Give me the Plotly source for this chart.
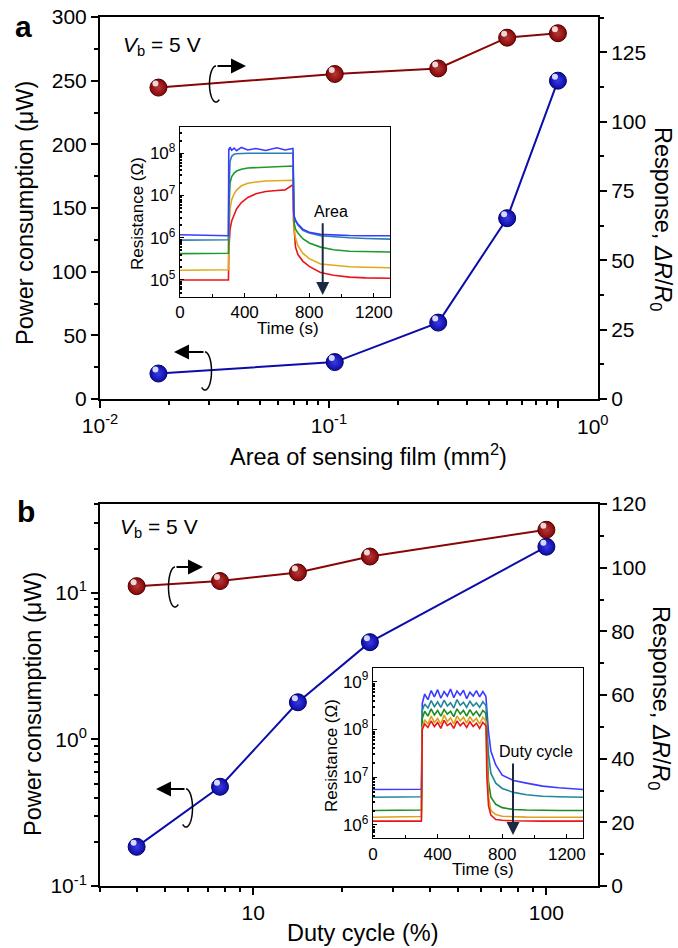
import math
import plotly.graph_objects as go

W, H = 678, 948
FONT = "Liberation Sans, Arial, sans-serif"

# ---------------- data ----------------
# panel a
area_mm2 = [0.018, 0.106, 0.30, 0.60, 1.0]
power_a_uW = [20, 29, 60, 142, 250]
response_a = [112.3, 117.2, 119.2, 130.3, 131.9]

# panel b
duty_pct = [4, 7.7, 14.2, 25, 100]
power_b_uW = [0.185, 0.475, 1.79, 4.6, 20.6]
response_b = [94.2, 95.8, 98.5, 103.5, 111.9]

# inset a : resistance vs time for five film areas
time_a = [0, 100, 200, 299, 300, 302, 305, 310, 320, 335, 350, 380, 420, 470, 530,
          600, 650, 699, 700, 703, 707, 715, 730, 760, 800, 870, 950, 1050, 1150, 1300]
res_a_blue = [1.18e6, 1.15e6, 1.13e6, 1.12e6, 1.12e6, 1.3e8, 1.2e8, 1.4e8, 1.18e8, 1.32e8, 1.15e8,
              1.38e8, 1.2e8, 1.3e8, 1.17e8, 1.35e8, 1.2e8, 1.3e8, 1.1e8, 4.5e6, 3.2e6, 2.6e6,
              2.1e6, 1.6e6, 1.35e6, 1.2e6, 1.15e6, 1.13e6, 1.12e6, 1.12e6]
res_a_teal = [8.8e5, 8.8e5, 8.9e5, 8.9e5, 9e5, 1.2e7, 4e7, 6.5e7, 8.5e7, 9.5e7, 9.8e7, 1e8, 1e8,
              1e8, 1e8, 1e8, 1e8, 1e8, 9e7, 4.5e6, 3.2e6, 2.5e6, 2e6, 1.5e6, 1.3e6, 1.12e6,
              1.05e6, 1.0e6, 9.6e5, 9.3e5]
res_a_green = [4.2e5, 4.2e5, 4.2e5, 4.2e5, 4.3e5, 4e6, 1.2e7, 2e7, 2.8e7, 3.4e7, 3.8e7, 4.2e7,
               4.5e7, 4.6e7, 4.7e7, 4.8e7, 4.9e7, 5e7, 4.8e7, 3.5e6, 2.2e6, 1.6e6, 1.3e6, 9.5e5,
               7.5e5, 6e5, 5.2e5, 4.8e5, 4.7e5, 4.6e5]
res_a_orange = [1.7e5, 1.7e5, 1.7e5, 1.7e5, 1.75e5, 1.2e6, 3e6, 5e6, 8e6, 1.1e7, 1.35e7, 1.7e7,
                1.95e7, 2.1e7, 2.2e7, 2.25e7, 2.3e7, 2.3e7, 2.2e7, 2.5e6, 1.5e6, 1e6, 6.5e5,
                4.3e5, 3.2e5, 2.4e5, 2.2e5, 2.05e5, 2e5, 1.95e5]
res_a_red = [1.0e5, 1.0e5, 1.0e5, 1.0e5, 1.0e5, 5e5, 1e6, 1.6e6, 2.5e6, 3.6e6, 4.8e6, 6.8e6,
             9e6, 1.1e7, 1.25e7, 1.32e7, 1.36e7, 1.8e7, 1.5e7, 2.5e6, 1.2e6, 6e5, 4e5, 2.8e5,
             2.1e5, 1.5e5, 1.3e5, 1.17e5, 1.12e5, 1.1e5]

# inset b : resistance vs time for five duty cycles
time_b = [0, 150, 299, 300, 305, 320, 340, 360, 380, 400, 420, 440, 460, 480, 500, 520, 540,
          560, 580, 600, 620, 640, 660, 680, 698, 700, 705, 715, 730, 760, 800, 870, 950,
          1050, 1150, 1250, 1300]
res_b_blue = [5.5e6, 5.5e6, 5.5e6, 5.6e6, 3.5e8, 5.5e8, 4.2e8, 6.5e8, 4.8e8, 6.8e8, 4.5e8,
              6.2e8, 5.0e8, 7.0e8, 4.6e8, 6.4e8, 5.2e8, 6.6e8, 4.4e8, 6.0e8, 5.0e8, 6.5e8,
              4.8e8, 6.2e8, 5.0e8, 4.5e8, 2.5e8, 9e7, 3.5e7, 1.8e7, 1.1e7, 8.5e6, 7.5e6,
              6.5e6, 6e6, 5.6e6, 5.5e6]
res_b_teal = [3.8e6, 3.8e6, 3.8e6, 3.9e6, 2.5e8, 3.4e8, 2.8e8, 4e8, 3e8, 3.8e8, 2.9e8, 4.1e8,
              3.1e8, 3.6e8, 2.8e8, 4.2e8, 3.2e8, 3.7e8, 2.9e8, 3.9e8, 3.1e8, 3.6e8, 2.9e8,
              3.8e8, 3.2e8, 3e8, 1.2e8, 3e7, 1.2e7, 7.5e6, 5.8e6, 4.8e6, 4.3e6, 4e6, 3.9e6,
              3.8e6, 3.8e6]
res_b_green = [2.0e6, 2.0e6, 2.0e6, 2.05e6, 1.7e8, 2.4e8, 1.9e8, 2.7e8, 2e8, 2.5e8, 1.9e8,
               2.6e8, 2.1e8, 2.4e8, 1.85e8, 2.7e8, 2.1e8, 2.5e8, 1.9e8, 2.6e8, 2e8, 2.4e8,
               1.9e8, 2.5e8, 2.2e8, 2e8, 5e7, 8e6, 3.8e6, 2.7e6, 2.3e6, 2.1e6, 2.05e6, 2.0e6,
               2.0e6, 2.0e6, 2.0e6]
res_b_orange = [1.45e6, 1.45e6, 1.45e6, 1.5e6, 1.1e8, 1.6e8, 1.3e8, 1.9e8, 1.4e8, 1.7e8,
                1.3e8, 2e8, 1.45e8, 1.75e8, 1.3e8, 1.9e8, 1.5e8, 1.8e8, 1.35e8, 1.85e8,
                1.45e8, 1.7e8, 1.3e8, 1.8e8, 1.5e8, 1.4e8, 2.5e7, 4e6, 2e6, 1.65e6, 1.52e6,
                1.48e6, 1.46e6, 1.45e6, 1.45e6, 1.45e6, 1.45e6]
res_b_red = [1.2e6, 1.2e6, 1.2e6, 1.25e6, 1.0e8, 1.3e8, 1.1e8, 1.5e8, 1.15e8, 1.4e8, 1.05e8,
             1.55e8, 1.2e8, 1.35e8, 1.05e8, 1.5e8, 1.2e8, 1.4e8, 1.1e8, 1.45e8, 1.15e8,
             1.35e8, 1.05e8, 1.4e8, 1.2e8, 1.1e8, 1e7, 2.5e6, 1.6e6, 1.3e6, 1.25e6, 1.22e6,
             1.2e6, 1.2e6, 1.2e6, 1.2e6, 1.2e6]

# tick labels
xa_tickvals = [0.01, 0.1, 1]
xa_ticktext = ["10<sup>-2</sup>", "10<sup>-1</sup>", ""]
xb_tickvals = [10, 100]
xb_ticktext = ["10", "100"]
yb_tickvals = [0.1, 1, 10]
yb_ticktext = ["10<sup>-1</sup>", "10<sup>0</sup>", "10<sup>1</sup>"]
ins_a_tickvals = [1e5, 1e6, 1e7, 1e8]
ins_a_ticktext = ["10<sup>5</sup>", "10<sup>6</sup>", "10<sup>7</sup>", "10<sup>8</sup>"]
ins_b_tickvals = [1e6, 1e7, 1e8, 1e9]
ins_b_ticktext = ["10<sup>6</sup>", "10<sup>7</sup>", "10<sup>8</sup>", "10<sup>9</sup>"]


def px(x):
    return x / W


def py(y):
    return 1 - y / H


def minor_log(lo_exp, hi_exp):
    vals = []
    for e in range(lo_exp, hi_exp + 1):
        for d in range(2, 10):
            vals.append(d * 10 ** e)
    return vals


fig = go.Figure()


def ball_trace(x, y, xa, ya, base, edge, center):
    return go.Scatter(
        x=x, y=y, xaxis=xa, yaxis=ya, mode="lines+markers",
        line=dict(color=base, width=2),
        marker=dict(size=17, color=base, line=dict(color=edge, width=1),
                    gradient=dict(type="radial", color=center)),
        showlegend=False, hoverinfo="skip")


def hl_trace(x, y, xa, ya, col):
    return go.Scatter(x=x, y=y, xaxis=xa, yaxis=ya, mode="markers",
                      marker=dict(size=6, color=col, line=dict(width=0)),
                      showlegend=False, hoverinfo="skip")


# panel a main
fig.add_trace(ball_trace(area_mm2, response_a, "x", "y2", "#8a0505", "#4a0000", "#b23a3a"))
fig.add_trace(ball_trace(area_mm2, power_a_uW, "x", "y", "#0c0caa", "#000060", "#3a3ae0"))
# panel b main
fig.add_trace(ball_trace(duty_pct, response_b, "x2", "y4", "#8a0505", "#4a0000", "#b23a3a"))
fig.add_trace(ball_trace(duty_pct, power_b_uW, "x2", "y3", "#0c0caa", "#000060", "#3a3ae0"))
# highlights
fig.add_trace(hl_trace(area_mm2, response_a, "x5", "y8", "#f0d6d6"))
fig.add_trace(hl_trace(area_mm2, power_a_uW, "x5", "y7", "#d8d8ff"))
fig.add_trace(hl_trace(duty_pct, response_b, "x6", "y10", "#f0d6d6"))
fig.add_trace(hl_trace(duty_pct, power_b_uW, "x6", "y9", "#d8d8ff"))

# insets
ins_a = [(res_a_red, "#e8161b"), (res_a_orange, "#e0a81c"), (res_a_green, "#1e9a2a"),
         (res_a_teal, "#2a7fb5"), (res_a_blue, "#3b3bff")]
for vals, col in ins_a:
    fig.add_trace(go.Scatter(x=time_a, y=vals, xaxis="x3", yaxis="y5", mode="lines",
                             line=dict(color=col, width=1.6), showlegend=False,
                             hoverinfo="skip"))
ins_b = [(res_b_blue, "#3b3bff"), (res_b_teal, "#22879c"), (res_b_green, "#1a8c22"),
         (res_b_orange, "#dba21b"), (res_b_red, "#e8161b")]
for vals, col in ins_b:
    fig.add_trace(go.Scatter(x=time_b, y=vals, xaxis="x4", yaxis="y6", mode="lines",
                             line=dict(color=col, width=1.6), showlegend=False,
                             hoverinfo="skip"))

tickfont = dict(family=FONT, size=21, color="black")
insfont = dict(family=FONT, size=17, color="black")


def main_ax(**kw):
    d = dict(showline=True, linecolor="black", linewidth=2, ticks="outside", ticklen=7,
             tickwidth=2, tickcolor="black", tickfont=tickfont, showgrid=False,
             zeroline=False)
    d.update(kw)
    return d


def minor_lin(dt):
    return dict(dtick=dt, ticks="outside", ticklen=4, tickwidth=1.5, tickcolor="black")


def minor_vals(vals, ticks="outside", ln=4):
    return dict(tickmode="array", tickvals=vals, ticks=ticks, ticklen=ln, tickwidth=1.5,
                tickcolor="black")


def ins_ax(**kw):
    d = dict(showline=True, linecolor="black", linewidth=1.3, mirror=True, ticks="inside",
             ticklen=4, tickwidth=1.3, tickcolor="black", tickfont=insfont, showgrid=False,
             zeroline=False)
    d.update(kw)
    return d


XA = [px(100), px(598)]
YA = [py(399), py(17)]
YB = [py(886), py(504)]
xa_range = [-2, 0.175]
xb_range = [math.log10(3), math.log10(150)]
dxs, dys = 3 / W, 4 / H
hid = dict(visible=False, showgrid=False, zeroline=False)

layout = dict(
    width=W, height=H, margin=dict(l=0, r=0, t=0, b=0, autoexpand=False),
    paper_bgcolor="white", plot_bgcolor="rgba(0,0,0,0)",
    font=dict(family=FONT, color="black"),
    xaxis=main_ax(type="log", range=xa_range, domain=XA, anchor="y", mirror=True,
                  tickmode="array", tickvals=xa_tickvals, ticktext=xa_ticktext,
                  minor=minor_vals(minor_log(-2, 0)[:-7])),
    yaxis=main_ax(range=[0, 300], domain=YA, anchor="x", dtick=50, tick0=0,
                  minor=minor_lin(25)),
    yaxis2=main_ax(range=[0, 137.75], overlaying="y", side="right", anchor="x", dtick=25,
                   tick0=0, minor=minor_lin(12.5)),
    xaxis2=main_ax(type="log", range=xb_range, domain=XA, anchor="y3", mirror=True,
                   tickmode="array", tickvals=xb_tickvals, ticktext=xb_ticktext,
                   minor=minor_vals([3, 4, 5, 6, 7, 8, 9, 20, 30, 40, 50, 60, 70, 80, 90])),
    yaxis3=main_ax(type="log", range=[-1, 1.605], domain=YB, anchor="x2", tickmode="array",
                   tickvals=yb_tickvals, ticktext=yb_ticktext,
                   minor=minor_vals(minor_log(-1, 1)[:-5])),
    yaxis4=main_ax(range=[0, 120], overlaying="y3", side="right", anchor="x2", dtick=20,
                   tick0=0, minor=minor_lin(10)),
    # insets
    xaxis3=ins_ax(range=[0, 1300], domain=[px(180), px(390)], anchor="y5", dtick=400,
                  tick0=0, minor=dict(dtick=200, ticks="inside", ticklen=3, tickcolor="black")),
    yaxis5=ins_ax(type="log", range=[4.604, 8.616], domain=[py(296.7), py(127.3)],
                  anchor="x3", tickmode="array", tickvals=ins_a_tickvals,
                  ticktext=ins_a_ticktext, minor=minor_vals(minor_log(4, 8), "inside", 2)),
    xaxis4=ins_ax(range=[0, 1300], domain=[px(373), px(583)], anchor="y6", dtick=400,
                  tick0=0, minor=dict(dtick=200, ticks="inside", ticklen=3, tickcolor="black")),
    yaxis6=ins_ax(type="log", range=[5.72, 9.28], domain=[py(838.3), py(668.3)],
                  anchor="x4", tickmode="array", tickvals=ins_b_tickvals,
                  ticktext=ins_b_ticktext, minor=minor_vals(minor_log(5, 9), "inside", 2)),
    # highlight helper axes (shifted a few pixels up-left)
    xaxis5=dict(type="log", range=xa_range, domain=[XA[0] - dxs, XA[1] - dxs], anchor="y7", **hid),
    yaxis7=dict(range=[0, 300], domain=[YA[0] + dys, YA[1] + dys], anchor="x5", **hid),
    yaxis8=dict(range=[0, 137.75], domain=[YA[0] + dys, YA[1] + dys], anchor="x5", **hid),
    xaxis6=dict(type="log", range=xb_range, domain=[XA[0] - dxs, XA[1] - dxs], anchor="y9", **hid),
    yaxis9=dict(type="log", range=[-1, 1.605], domain=[YB[0] + dys, YB[1] + dys], anchor="x6", **hid),
    yaxis10=dict(range=[0, 120], domain=[YB[0] + dys, YB[1] + dys], anchor="x6", **hid),
)
fig.update_layout(**layout)

ann = []


def text(x, y, s, size, angle=0, xanchor="center", yanchor="middle"):
    ann.append(dict(x=px(x), y=py(y), xref="paper", yref="paper", text=s, showarrow=False,
                    textangle=angle, xanchor=xanchor, yanchor=yanchor,
                    font=dict(family=FONT, size=size, color="black")))


def arrow(hx, hy, tx, ty, color="black", width=1.8, size=1.1):
    ann.append(dict(x=px(hx), y=py(hy), xref="paper", yref="paper", text="", showarrow=True,
                    ax=tx - hx, ay=ty - hy, axref="pixel", ayref="pixel", arrowhead=2,
                    arrowsize=size, arrowwidth=width, arrowcolor=color, standoff=0))


text(23, 26, "<b>a</b>", 30)
text(26, 511, "<b>b</b>", 30)
text(121, 46, "<i>V</i><sub>b</sub> = 5 V", 21, xanchor="left")
text(118, 528, "<i>V</i><sub>b</sub> = 5 V", 21, xanchor="left")
text(25, 213, "Power consumption (μW)", 23.5, angle=-90)
text(33, 704, "Power consumption (μW)", 23.5, angle=-90)
text(662, 219, "Response, <i>ΔR</i>/<i>R</i><sub>0</sub>", 23.5, angle=90)
text(660, 698, "Response, <i>ΔR</i>/<i>R</i><sub>0</sub>", 23.5, angle=90)
text(369, 455, "Area of sensing film (mm<sup>2</sup>)", 23.5)
text(362, 933, "Duty cycle (%)", 23.5)
text(593, 425, "10<sup>0</sup>", 21)
# inset titles
text(288, 329, "Time (s)", 17)
text(137, 214, "Resistance (Ω)", 17, angle=-90)
text(483, 869, "Time (s)", 17)
text(331, 756, "Resistance (Ω)", 17, angle=-90)
text(331, 211, "Area", 16)
text(536, 751, "Duty cycle", 16)
# inset arrows
arrow(322.7, 295, 322.7, 221.7, color="#1b2a41", width=2, size=1.3)
arrow(513, 835, 513, 762, color="#1b2a41", width=2, size=1.3)
# axis-pointer arrows
arrow(246, 66, 216, 66, width=2, size=1.5)
arrow(174, 352, 205, 352, width=2, size=1.5)
arrow(203, 567, 175, 567, width=2, size=1.5)
arrow(156, 789, 186, 789, width=2, size=1.5)
fig.update_layout(annotations=ann)


def icon_path(cx, ytop, h, rx, side):
    ry = h / 2
    yc = ytop + ry
    pts = []
    for k in range(0, 43):
        phi = math.radians(k * 5)
        pts.append((px(cx + side * rx * math.sin(phi)), py(yc - ry * math.cos(phi))))
    return "M " + " L ".join(f"{a:.5f},{b:.5f}" for a, b in pts)


shapes = []
for cx, yt, h, side in [(216, 66, 36, -1), (205, 352, 38, 1), (175, 567, 40, -1),
                        (186, 789, 38, 1)]:
    shapes.append(dict(type="path", xref="paper", yref="paper",
                       path=icon_path(cx, yt, h, 6.5, side),
                       line=dict(color="black", width=1.5)))
fig.update_layout(shapes=shapes)

fig.write_html("out.html", config={"displayModeBar": False},
               post_script="document.body.style.margin='0px';"
                           "document.body.style.overflow='hidden';")
